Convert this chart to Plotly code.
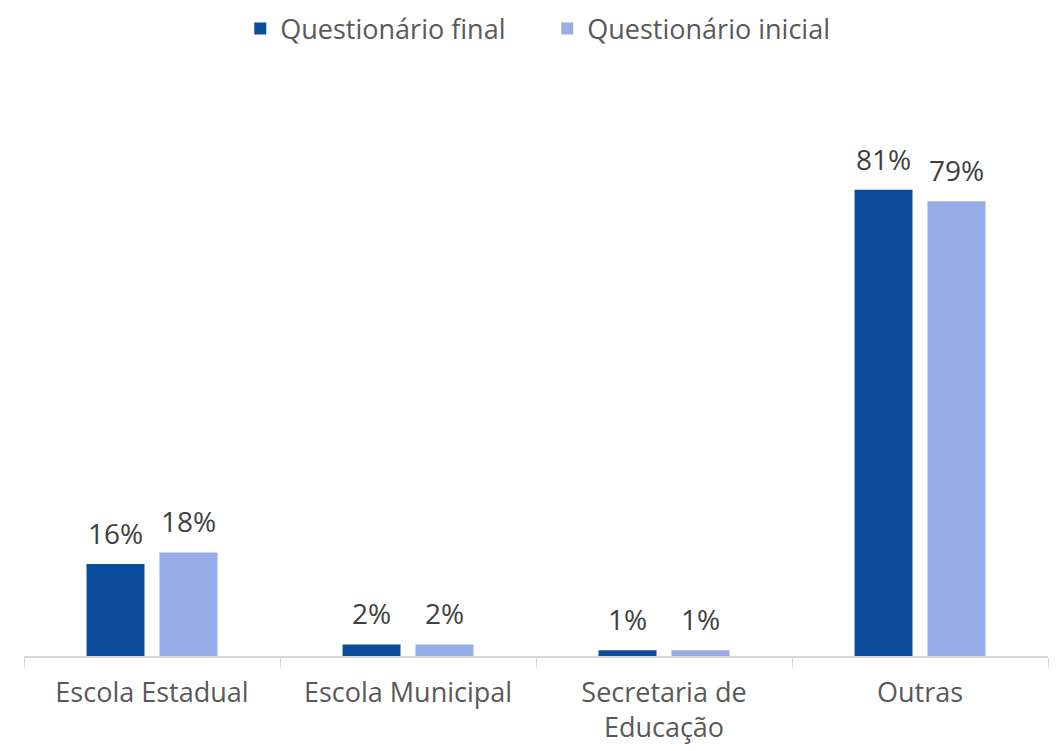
import plotly.graph_objects as go

categories = ["Escola Estadual", "Escola Municipal", "Secretaria de<br>Educação", "Outras"]
final_vals = [0.16, 0.02, 0.01, 0.81]
inicial_vals = [0.18, 0.02, 0.01, 0.79]
series_names = ["Questionário final", "Questionário inicial"]
colors = ["#0B4C9C", "#97ADE8"]

FONT = "Open Sans, sans-serif"
BAR_WIDTH = 0.2266   # in category units
SLOT = 0.285         # distance between bar centres within a group
offsets = [-SLOT / 2, SLOT / 2]

fig = go.Figure()
for name, vals, col, off in zip(series_names, [final_vals, inicial_vals], colors, offsets):
    fig.add_trace(go.Bar(
        x=categories, y=vals, name=name, marker_color=col,
        marker_line_width=0, width=BAR_WIDTH, offset=off - BAR_WIDTH / 2,
    ))
    for i, v in enumerate(vals):
        fig.add_annotation(
            x=i + off, y=v, xref="x", yref="y", text=f"{round(v*100)}%",
            showarrow=False, yanchor="bottom", yshift=10,
            font=dict(size=28, color="#404040", family=FONT),
        )

fig.update_layout(
    width=1058, height=751,
    paper_bgcolor="white", plot_bgcolor="white",
    margin=dict(l=16, r=18, t=130, b=103),
    barmode="overlay",
    font=dict(family=FONT, size=27, color="#595959"),
    legend=dict(orientation="h", x=0.511, xanchor="center", y=0.972, yanchor="middle",
                yref="container", font=dict(size=27, color="#595959"),
                traceorder="normal", entrywidth=262),
    xaxis=dict(showline=True, linecolor="#D9D9D9", linewidth=1.5,
               ticks="outside", tickson="boundaries", ticklen=10, tickcolor="#D9D9D9",
               ticklabelstandoff=12,
               tickfont=dict(size=27, color="#595959"), showgrid=False),
    yaxis=dict(range=[0, 0.9], visible=False, showgrid=False, zeroline=False),
)

fig.write_html("out.html")
